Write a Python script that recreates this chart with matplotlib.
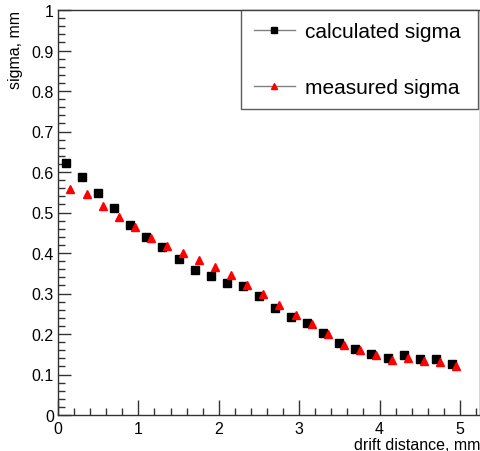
import numpy as np
import matplotlib
matplotlib.use("Agg")
from matplotlib import pyplot as plt
from matplotlib.ticker import MultipleLocator
from matplotlib.lines import Line2D

# calculated sigma (black squares)
calc_x = [0.1, 0.3, 0.5, 0.7, 0.9, 1.1, 1.3, 1.5, 1.7, 1.9, 2.1, 2.3, 2.5,
          2.7, 2.9, 3.1, 3.3, 3.5, 3.7, 3.9, 4.1, 4.3, 4.5, 4.7, 4.9]
calc_sigma = [0.622, 0.587, 0.548, 0.511, 0.470, 0.440, 0.414, 0.384, 0.357,
              0.343, 0.325, 0.318, 0.295, 0.263, 0.241, 0.226, 0.203, 0.178,
              0.164, 0.150, 0.141, 0.149, 0.138, 0.138, 0.126]

# measured sigma (red triangles)
meas_x = [0.155, 0.355, 0.555, 0.755, 0.955, 1.155, 1.355, 1.555, 1.755,
          1.955, 2.155, 2.355, 2.555, 2.755, 2.955, 3.155, 3.355, 3.555,
          3.755, 3.955, 4.155, 4.355, 4.555, 4.755, 4.955]
meas_sigma = [0.558, 0.546, 0.517, 0.489, 0.464, 0.437, 0.418, 0.400, 0.382,
              0.366, 0.345, 0.320, 0.300, 0.272, 0.247, 0.225, 0.201, 0.174,
              0.160, 0.147, 0.135, 0.140, 0.134, 0.131, 0.122]

ytick_labels = ['0', '0.1', '0.2', '0.3', '0.4', '0.5', '0.6', '0.7', '0.8', '0.9', '1']

plt.rcParams['font.family'] = ['Liberation Sans', 'DejaVu Sans']

fig = plt.figure(figsize=(4.81, 4.52), dpi=100)
ax = fig.add_axes([58/481, 36/452, 422/481, 405/452])

frame_col = '#333333'
ax.plot(calc_x, calc_sigma, ls='none', marker='s', ms=6.2, color='black',
        mec='black', label='calculated sigma')
ax.plot(meas_x, meas_sigma, ls='none', marker='^', ms=5.8, color='red',
        mec='red', label='measured sigma')

ax.set_xlim(0, 5.25)
ax.set_ylim(0, 1.0)
ax.xaxis.set_major_locator(MultipleLocator(1))
ax.xaxis.set_minor_locator(MultipleLocator(0.2))
ax.set_yticks(np.arange(0, 1.01, 0.1))
ax.set_yticklabels(ytick_labels)
ax.yaxis.set_minor_locator(MultipleLocator(0.02))

ax.tick_params(which='both', direction='in', top=False, right=False,
               color=frame_col, labelsize=11.5, width=1)
ax.tick_params(axis='y', which='major', length=9, pad=3)
ax.tick_params(axis='y', which='minor', length=5)
ax.tick_params(axis='x', which='major', length=11, pad=4)
ax.tick_params(axis='x', which='minor', length=5)
for sp in ax.spines.values():
    sp.set_color(frame_col)
    sp.set_linewidth(1)

ax.set_xlabel('drift distance, mm', fontsize=11.5, loc='right', labelpad=1)
ax.set_ylabel('sigma, mm', fontsize=11.5, loc='top', labelpad=6)

# legend: gray line through a small marker, like the ROOT TLegend
handles = [Line2D([], [], color='gray', lw=1, marker='s', ms=4.5, mfc='black', mec='black'),
           Line2D([], [], color='gray', lw=1, marker='^', ms=4.5, mfc='red', mec='red')]
leg = ax.legend(handles, ['calculated sigma', 'measured sigma'],
                loc='upper left', bbox_to_anchor=(0.434, 1.0, 0.561, 0.0),
                mode='expand', fontsize=15, frameon=True, fancybox=False,
                edgecolor=frame_col, borderpad=0.6, labelspacing=1.75,
                handlelength=2.0, handletextpad=0.45, borderaxespad=0)
leg.get_frame().set_linewidth(1)

fig.savefig('out.png', dpi=100)
